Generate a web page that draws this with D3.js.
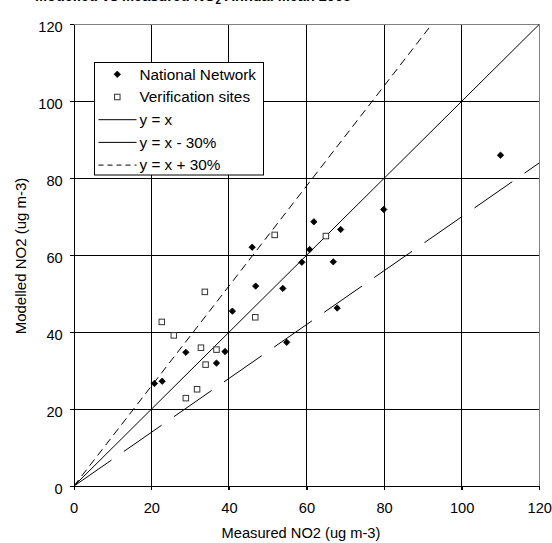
<!DOCTYPE html>
<html>
<head>
<meta charset="utf-8">
<script src="https://cdn.jsdelivr.net/npm/d3@7"></script>
<style>
  html, body { margin: 0; padding: 0; background: #fff; }
  svg { display: block; font-family: "Liberation Sans", Arial, sans-serif; }
</style>
</head>
<body>
<svg id="chart" width="552" height="543"></svg>
<script>
// ---- data ----
const nationalX = [20.8, 22.8, 28.9, 36.8, 39.0, 40.9, 46.0, 46.9, 53.9, 54.9, 58.8, 60.8, 61.9, 66.9, 67.9, 68.8, 79.9, 110];
const nationalY = [26.7, 27.3, 34.8, 32.0, 35.0, 45.5, 62.1, 52.0, 51.4, 37.4, 58.2, 61.5, 68.7, 58.3, 46.3, 66.7, 71.9, 86];
const verifX = [22.7, 25.8, 28.9, 31.8, 32.8, 33.8, 34.0, 36.8, 46.8, 51.8, 65.0];
const verifY = [42.7, 39.2, 22.9, 25.2, 36.0, 50.5, 31.6, 35.5, 43.9, 65.3, 65.0];
const xTicks = [0, 20, 40, 60, 80, 100, 120];
const yTicks = [0, 20, 40, 60, 80, 100, 120];
const lineFactors = [1, 0.7, 1.3];
const legendLabels = ["National Network", "Verification sites", "y = x", "y = x - 30%", "y = x + 30%"];
const titleText = ["Modelled vs Measured NO", "2", " Annual Mean 2005"];
const xLabel = "Measured NO2 (ug m-3)";
const yLabel = "Modelled NO2 (ug m-3)";

(function () {
// ---- layout ----
const svg = d3.select("#chart");
const pL = 73.7, pR = 539.3, pT = 24.3, pB = 486.3;
const x = d3.scaleLinear().domain([0, 120]).range([pL, pR]);
const y = d3.scaleLinear().domain([0, 120]).range([pB, pT]);

// clipped title (only its very bottom shows, as in the reference)
const t = svg.append("text").attr("x", 35).attr("y", 0.8)
  .attr("font-size", 14.5).attr("font-weight", "bold").attr("fill", "#000");
t.append("tspan").text(titleText[0]);
t.append("tspan").attr("dy", 3).attr("font-size", 10).text(titleText[1]);
t.append("tspan").attr("dy", -3).text(titleText[2]);

// gridlines
const grid = svg.append("g");
grid.selectAll("line.v").data(xTicks.slice(1, -1)).join("line")
  .attr("x1", d => x(d)).attr("x2", d => x(d))
  .attr("y1", pT).attr("y2", pB + 4)
  .attr("stroke", "#000").attr("stroke-width", 1).attr("shape-rendering", "crispEdges");
grid.selectAll("line.h").data(yTicks.slice(1, -1)).join("line")
  .attr("y1", d => y(d)).attr("y2", d => y(d))
  .attr("x1", pL - 4).attr("x2", pR)
  .attr("stroke", "#000").attr("stroke-width", 1).attr("shape-rendering", "crispEdges");

// frame (top/right gray)
svg.append("line").attr("x1", pL).attr("x2", pR).attr("y1", pT).attr("y2", pT)
  .attr("stroke", "#808080").attr("shape-rendering", "crispEdges");
svg.append("line").attr("x1", pR).attr("x2", pR).attr("y1", pT).attr("y2", pB)
  .attr("stroke", "#808080").attr("shape-rendering", "crispEdges");

// axes
const xAxis = svg.append("g").attr("transform", `translate(0,${pB})`)
  .call(d3.axisBottom(x).tickValues(xTicks).tickSize(4).tickPadding(12).tickSizeOuter(0));
const yAxis = svg.append("g").attr("transform", `translate(${pL},0)`)
  .call(d3.axisLeft(y).tickValues(yTicks).tickSize(4).tickPadding(7).tickSizeOuter(0));
[xAxis, yAxis].forEach(a => {
  a.select(".domain").attr("stroke", "#000").attr("shape-rendering", "crispEdges");
  a.selectAll(".tick line").attr("stroke", "#000").attr("shape-rendering", "crispEdges");
  a.selectAll(".tick text").attr("font-size", 14.67).attr("fill", "#000")
    .attr("font-family", "Liberation Sans, Arial, sans-serif");
});
yAxis.selectAll(".tick text").attr("dy", "0.5em");

// axis labels
svg.append("text").attr("x", 301).attr("y", 537.5).attr("text-anchor", "middle")
  .attr("font-size", 14.67).attr("fill", "#000").text(xLabel);
svg.append("text").attr("transform", `translate(26,256) rotate(-90)`).attr("text-anchor", "middle")
  .attr("font-size", 15).attr("fill", "#000").text(yLabel);

// reference lines
const clipId = "plotclip";
svg.append("clipPath").attr("id", clipId).append("rect")
  .attr("x", pL).attr("y", pT).attr("width", pR - pL).attr("height", pB - pT);
const dashes = [null, "46,15", "8,5"];
const lines = svg.append("g").attr("clip-path", `url(#${clipId})`);
lineFactors.forEach((f, i) => {
  lines.append("line")
    .attr("x1", x(0)).attr("y1", y(0))
    .attr("x2", x(120)).attr("y2", y(120 * f))
    .attr("stroke", "#000").attr("stroke-width", 1)
    .attr("stroke-dasharray", dashes[i]);
});

// points
const diamond = d3.symbol().type(d3.symbolDiamond2).size(26);
svg.append("g").selectAll("path").data(nationalX.map((d, i) => [d, nationalY[i]])).join("path")
  .attr("d", diamond)
  .attr("transform", d => `translate(${x(d[0])},${y(d[1])})`)
  .attr("fill", "#000").attr("stroke", "#000").attr("stroke-width", 0.8);
const sq = 5.5;
svg.append("g").selectAll("rect").data(verifX.map((d, i) => [d, verifY[i]])).join("rect")
  .attr("x", d => x(d[0]) - sq / 2).attr("y", d => y(d[1]) - sq / 2)
  .attr("width", sq).attr("height", sq)
  .attr("fill", "#fff").attr("stroke", "#333").attr("stroke-width", 1);

// legend
const lg = svg.append("g");
lg.append("rect").attr("x", 94.5).attr("y", 62.5).attr("width", 169).attr("height", 112.5)
  .attr("fill", "#fff").attr("stroke", "#000").attr("stroke-width", 1);
const rowY = i => 74.3 + i * 22.7;
legendLabels.forEach((lab, i) => {
  lg.append("text").attr("x", 139.5).attr("y", rowY(i) + 5.2)
    .attr("font-size", 15.3).attr("fill", "#000").text(lab);
});
lg.append("path").attr("d", diamond).attr("transform", `translate(117.3,${rowY(0)})`)
  .attr("fill", "#000").attr("stroke", "#000").attr("stroke-width", 0.8);
lg.append("rect").attr("x", 117.3 - sq / 2).attr("y", rowY(1) - sq / 2)
  .attr("width", sq).attr("height", sq).attr("fill", "#fff").attr("stroke", "#333");
const legDash = [null, null, "5,4"];
[0, 1, 2].forEach(k => {
  lg.append("line").attr("x1", 98.5).attr("x2", 136.5)
    .attr("y1", rowY(k + 2)).attr("y2", rowY(k + 2))
    .attr("stroke", "#000").attr("stroke-dasharray", legDash[k]);
});
})();
</script>
</body>
</html>
